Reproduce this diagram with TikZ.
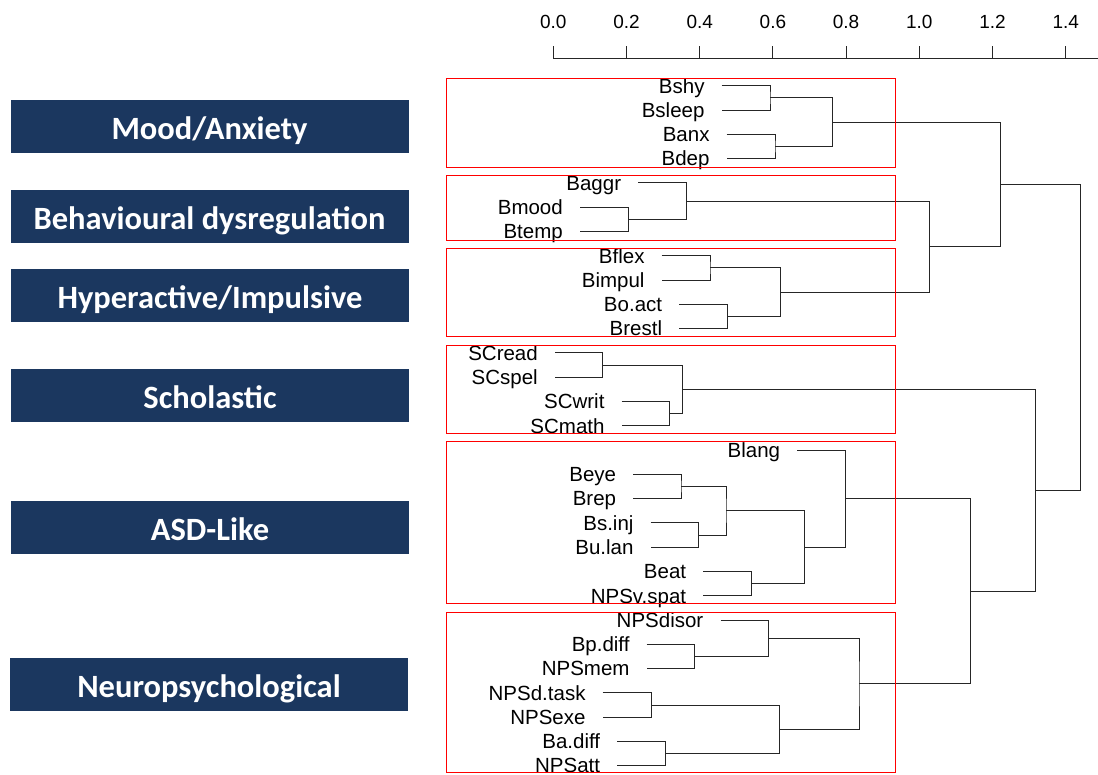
\documentclass[tikz,border=0pt]{standalone}
\usepackage{fontspec}
\setmainfont{Liberation Sans}
\newfontfamily\groupfont{Carlito}
\usetikzlibrary{positioning}
\definecolor{navy}{RGB}{27,55,95}
\tikzstyle{group} = [rectangle, fill=navy, text=white, font=\groupfont\bfseries\fontsize{32.5}{32.5}\selectfont, minimum width=398pt, minimum height=52.7pt, text height=26pt, text depth=0pt, inner sep=0pt]
\tikzstyle{leaf} = [anchor=east, font=\fontsize{20.5}{20.5}\selectfont, text height=14.6pt, text depth=0pt, inner ysep=0pt, inner xsep=17pt]
\tikzstyle{ticklabel} = [anchor=base, font=\fontsize{19}{19}\selectfont, inner sep=0pt]
\tikzstyle{tree} = [draw=black!85, line width=1pt]
\tikzstyle{cluster} = [draw=red, line width=1pt]

\begin{document}
\begin{tikzpicture}[x=1pt, y=-1pt]
    \useasboundingbox (0,0) rectangle (1098,774);

    % Group names
    \node [group] (g-mood) at (209.5,126.4) {Mood/Anxiety};
    \node [group] (g-behav) at (209.5,216.4) {Behavioural dysregulation};
    \node [group] (g-hyper) at (210,295.4) {Hyperactive/Impulsive};
    \node [group] (g-schol) at (210,395.4) {Scholastic};
    \node [group] (g-asd) at (210,527.4) {ASD-Like};
    \node [group] (g-neuro) at (209,684.4) {Neuropsychological};

    % Height scale
    \draw [tree] (553.3,58.3) -- (1098,58.3);
    \draw [tree] (553.3,46) -- (553.3,58.3);
    \draw [tree] (626.5,46) -- (626.5,58.3);
    \draw [tree] (699.7,46) -- (699.7,58.3);
    \draw [tree] (772.9,46) -- (772.9,58.3);
    \draw [tree] (846.1,46) -- (846.1,58.3);
    \draw [tree] (919.3,46) -- (919.3,58.3);
    \draw [tree] (992.5,46) -- (992.5,58.3);
    \draw [tree] (1065.7,46) -- (1065.7,58.3);
    \node [ticklabel] (t0) at (553.3,28.5) {0.0};
    \node [ticklabel] (t1) at (626.5,28.5) {0.2};
    \node [ticklabel] (t2) at (699.7,28.5) {0.4};
    \node [ticklabel] (t3) at (772.9,28.5) {0.6};
    \node [ticklabel] (t4) at (846.1,28.5) {0.8};
    \node [ticklabel] (t5) at (919.3,28.5) {1.0};
    \node [ticklabel] (t6) at (992.5,28.5) {1.2};
    \node [ticklabel] (t7) at (1065.7,28.5) {1.4};

    % Leaves
    \node [leaf] (bshy) at (721.7,85.7) {Bshy};
    \node [leaf] (bsleep) at (721.7,110.0) {Bsleep};
    \node [leaf] (banx) at (726.7,134.3) {Banx};
    \node [leaf] (bdep) at (726.7,158.6) {Bdep};
    \node [leaf] (baggr) at (638.3,182.8) {Baggr};
    \node [leaf] (bmood) at (580,207.1) {Bmood};
    \node [leaf] (btemp) at (580,231.4) {Btemp};
    \node [leaf] (bflex) at (661.7,255.7) {Bflex};
    \node [leaf] (bimpul) at (661.7,280.0) {Bimpul};
    \node [leaf] (boact) at (679.3,304.3) {Bo.act};
    \node [leaf] (brestl) at (679.3,328.6) {Brestl};
    \node [leaf] (scread) at (555,352.9) {SCread};
    \node [leaf] (scspel) at (555,377.1) {SCspel};
    \node [leaf] (scwrit) at (621.7,401.4) {SCwrit};
    \node [leaf] (scmath) at (621.7,425.7) {SCmath};
    \node [leaf] (blang) at (797.3,450.0) {Blang};
    \node [leaf] (beye) at (633.3,474.3) {Beye};
    \node [leaf] (brep) at (633.3,498.6) {Brep};
    \node [leaf] (bsinj) at (650.7,522.9) {Bs.inj};
    \node [leaf] (bulan) at (650.7,547.1) {Bu.lan};
    \node [leaf] (beat) at (703.3,571.4) {Beat};
    \node [leaf] (npsvspat) at (703.3,595.7) {NPSv.spat};
    \node [leaf] (npsdisor) at (720.5,620.0) {NPSdisor};
    \node [leaf] (bpdiff) at (646.7,644.3) {Bp.diff};
    \node [leaf] (npsmem) at (646.7,668.6) {NPSmem};
    \node [leaf] (npsdtask) at (602.7,692.9) {NPSd.task};
    \node [leaf] (npsexe) at (602.7,717.1) {NPSexe};
    \node [leaf] (badiff) at (617.3,741.4) {Ba.diff};
    \node [leaf] (npsatt) at (617.3,765.2) {NPSatt};

    % Merge points
    \coordinate (m-sleep) at (770,97.85);
    \coordinate (m-anx) at (775,146.45);
    \coordinate (m-moodanx) at (832.3,122.15);
    \coordinate (m-temp) at (628.3,219.25);
    \coordinate (m-behav) at (686.7,201.0);
    \coordinate (m-impul) at (710,267.85);
    \coordinate (m-act) at (727.3,316.45);
    \coordinate (m-hyper) at (780.7,292.15);
    \coordinate (m-bh) at (929.3,246.6);
    \coordinate (m-top) at (1000.7,184.4);
    \coordinate (m-read) at (602.7,365.0);
    \coordinate (m-math) at (669.3,413.55);
    \coordinate (m-schol) at (682.3,389.25);
    \coordinate (m-rep) at (681,486.45);
    \coordinate (m-inj) at (698.3,535.0);
    \coordinate (m-rrb) at (726,510.7);
    \coordinate (m-eat) at (751.7,583.55);
    \coordinate (m-beh) at (804.3,547.1);
    \coordinate (m-asd) at (845.7,498.55);
    \coordinate (m-mem) at (694.3,656.45);
    \coordinate (m-disor) at (768.3,638.2);
    \coordinate (m-exe) at (651.7,705.0);
    \coordinate (m-att) at (665.7,753.55);
    \coordinate (m-exec) at (779.3,729.3);
    \coordinate (m-neuro) at (859,683.75);
    \coordinate (m-an) at (970.7,591.15);
    \coordinate (m-san) at (1035,490.2);
    \coordinate (m-root) at (1080.7,337.3);

    % Draw branches
    \draw [tree] (bshy.east) -| (m-sleep) |- (bsleep.east);
    \draw [tree] (banx.east) -| (m-anx) |- (bdep.east);
    \draw [tree] (m-sleep) -| (m-moodanx) |- (m-anx);
    \draw [tree] (bmood.east) -| (m-temp) |- (btemp.east);
    \draw [tree] (baggr.east) -| (m-behav) |- (m-temp);
    \draw [tree] (bflex.east) -| (m-impul) |- (bimpul.east);
    \draw [tree] (boact.east) -| (m-act) |- (brestl.east);
    \draw [tree] (m-impul) -| (m-hyper) |- (m-act);
    \draw [tree] (m-behav) -| (m-bh) |- (m-hyper);
    \draw [tree] (m-moodanx) -| (m-top) |- (m-bh);
    \draw [tree] (scread.east) -| (m-read) |- (scspel.east);
    \draw [tree] (scwrit.east) -| (m-math) |- (scmath.east);
    \draw [tree] (m-read) -| (m-schol) |- (m-math);
    \draw [tree] (beye.east) -| (m-rep) |- (brep.east);
    \draw [tree] (bsinj.east) -| (m-inj) |- (bulan.east);
    \draw [tree] (m-rep) -| (m-rrb) |- (m-inj);
    \draw [tree] (beat.east) -| (m-eat) |- (npsvspat.east);
    \draw [tree] (m-rrb) -| (m-beh) |- (m-eat);
    \draw [tree] (blang.east) -| (m-asd) |- (m-beh);
    \draw [tree] (bpdiff.east) -| (m-mem) |- (npsmem.east);
    \draw [tree] (npsdisor.east) -| (m-disor) |- (m-mem);
    \draw [tree] (npsdtask.east) -| (m-exe) |- (npsexe.east);
    \draw [tree] (badiff.east) -| (m-att) |- (npsatt.east);
    \draw [tree] (m-exe) -| (m-exec) |- (m-att);
    \draw [tree] (m-disor) -| (m-neuro) |- (m-exec);
    \draw [tree] (m-asd) -| (m-an) |- (m-neuro);
    \draw [tree] (m-schol) -| (m-san) |- (m-an);
    \draw [tree] (m-top) -| (m-root) |- (m-san);

    % Red cluster frames
    \draw [cluster] (446.7,78.3) rectangle (895,167.3);
    \draw [cluster] (446.7,175.3) rectangle (895,240);
    \draw [cluster] (446.7,248.3) rectangle (895,336.7);
    \draw [cluster] (446.7,345.3) rectangle (895,433.3);
    \draw [cluster] (446.7,441.7) rectangle (895,603.3);
    \draw [cluster] (446.7,612.7) rectangle (895,772.7);
\end{tikzpicture}
\end{document}
